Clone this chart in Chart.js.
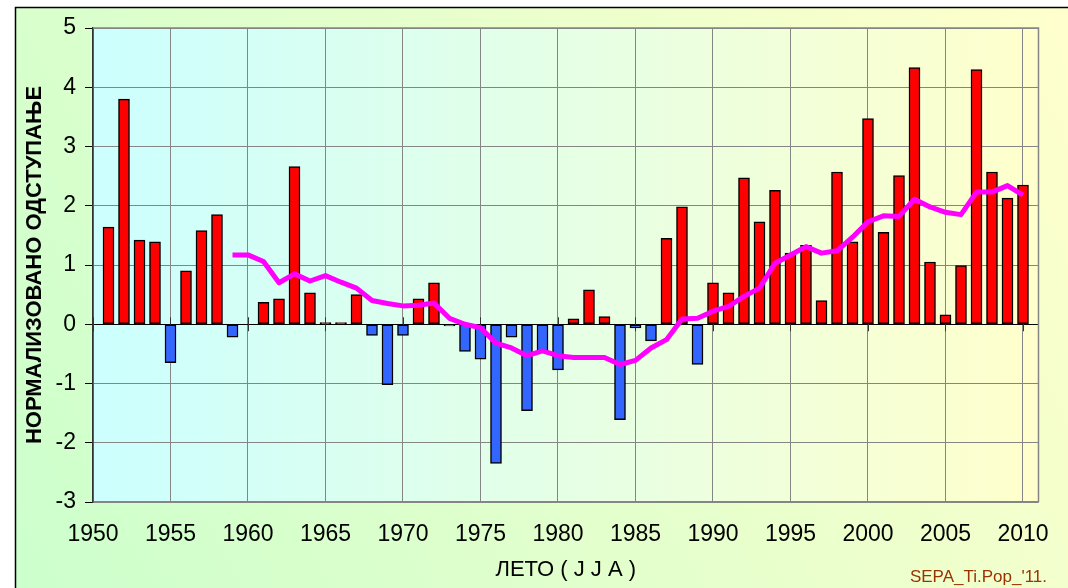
<!DOCTYPE html>
<html>
<head>
<meta charset="utf-8">
<script src="https://cdn.jsdelivr.net/npm/chart.js@4.4.1/dist/chart.umd.min.js"></script>
<style>
  html, body { margin: 0; padding: 0; background: #fff; }
  canvas { display: block; }
</style>
</head>
<body>
<canvas id="chart-bars" width="1068" height="588"></canvas>

<script>
// summer (JJA) normalized anomaly, per year
var years = [1951, 1952, 1953, 1954, 1955, 1956, 1957, 1958, 1959, 1960,
  1961, 1962, 1963, 1964, 1965, 1966, 1967, 1968, 1969, 1970,
  1971, 1972, 1973, 1974, 1975, 1976, 1977, 1978, 1979, 1980,
  1981, 1982, 1983, 1984, 1985, 1986, 1987, 1988, 1989, 1990,
  1991, 1992, 1993, 1994, 1995, 1996, 1997, 1998, 1999, 2000,
  2001, 2002, 2003, 2004, 2005, 2006, 2007, 2008, 2009, 2010];
var anomaly = [1.64, 3.80, 1.42, 1.39, -0.65, 0.90, 1.58, 1.85, -0.22, 0,
  0.37, 0.43, 2.66, 0.53, 0.03, 0.03, 0.50, -0.19, -1.02, -0.19,
  0.43, 0.70, -0.03, -0.46, -0.59, -2.35, -0.22, -1.46, -0.45, -0.77,
  0.09, 0.58, 0.13, -1.61, -0.06, -0.28, 1.45, 1.98, -0.68, 0.70,
  0.53, 2.47, 1.73, 2.26, 1.20, 1.33, 0.40, 2.57, 1.39, 3.47,
  1.55, 2.51, 4.33, 1.05, 0.16, 0.99, 4.30, 2.57, 2.13, 2.35];

// 10-year running mean (magenta line)
var avgYears = [1959, 1960, 1961, 1962, 1963, 1964, 1965, 1966, 1967, 1968,
  1969, 1970, 1971, 1972, 1973, 1974, 1975, 1976, 1977, 1978,
  1979, 1980, 1981, 1982, 1983, 1984, 1985, 1986, 1987, 1988,
  1989, 1990, 1991, 1992, 1993, 1994, 1995, 1996, 1997, 1998,
  1999, 2000, 2001, 2002, 2003, 2004, 2005, 2006, 2007, 2008,
  2009, 2010];
var avgValues = [1.17, 1.17, 1.06, 0.70, 0.85, 0.73, 0.82, 0.71, 0.61, 0.40,
  0.35, 0.31, 0.32, 0.36, 0.10, 0.00, -0.06, -0.32, -0.40, -0.53,
  -0.45, -0.53, -0.56, -0.56, -0.56, -0.68, -0.61, -0.40, -0.26, 0.09,
  0.10, 0.22, 0.30, 0.47, 0.61, 1.03, 1.17, 1.31, 1.20, 1.24,
  1.47, 1.73, 1.83, 1.82, 2.11, 1.98, 1.89, 1.85, 2.23, 2.23,
  2.34, 2.18];

var xTicks = [1950, 1955, 1960, 1965, 1970, 1975, 1980, 1985, 1990, 1995, 2000, 2005, 2010];
var yTicks = [-3, -2, -1, 0, 1, 2, 3, 4, 5];

var fontFamily = "'Liberation Sans', Arial, sans-serif";

var backdrop = {
  id: "backdrop",
  beforeDraw: function (chart) {
    var ctx = chart.ctx;
    var a = chart.chartArea;
    var w = chart.width, h = chart.height;
    ctx.save();
    ctx.fillStyle = "#fff";
    ctx.fillRect(0, 0, w, h);
    // outer frame
    var g = ctx.createLinearGradient(15, h, w, 7);
    g.addColorStop(0, "#ccffcc");
    g.addColorStop(1, "#ffffcc");
    ctx.fillStyle = g;
    ctx.fillRect(15, 7, w - 15, h - 7);
    ctx.strokeStyle = "#000";
    ctx.lineWidth = 1.5;
    ctx.beginPath();
    ctx.moveTo(15.5, h);
    ctx.lineTo(15.5, 7.5);
    ctx.lineTo(w, 7.5);
    ctx.stroke();
    // plot area
    var g2 = ctx.createLinearGradient(a.left, 0, a.right, 0);
    g2.addColorStop(0, "#ccffff");
    g2.addColorStop(1, "#ffffcc");
    ctx.fillStyle = g2;
    ctx.fillRect(a.left, a.top, a.right - a.left, a.bottom - a.top);
    ctx.restore();
  },
  beforeDatasetsDraw: function (chart) {
    var ctx = chart.ctx;
    var a = chart.chartArea;
    var xs = chart.scales.x, ys = chart.scales.y;
    var y0 = ys.getPixelForValue(0);
    ctx.save();
    ctx.strokeStyle = "#858585";
    ctx.lineWidth = 1.5;
    ctx.beginPath();
    ctx.moveTo(a.left, a.top);
    ctx.lineTo(a.right, a.top);
    ctx.lineTo(a.right, a.bottom);
    ctx.stroke();
    // tick marks crossing the zero line
    ctx.strokeStyle = "#333";
    ctx.lineWidth = 1;
    xTicks.forEach(function (t) {
      var px = Math.round(xs.getPixelForValue(t)) + 0.5;
      ctx.beginPath();
      ctx.moveTo(px, y0 - 7);
      ctx.lineTo(px, y0 + 7);
      ctx.stroke();
    });
    ctx.restore();
  },
  afterDraw: function (chart) {
    var ctx = chart.ctx;
    ctx.save();
    ctx.fillStyle = "#993300";
    ctx.font = "17px " + fontFamily;
    ctx.textAlign = "right";
    ctx.textBaseline = "alphabetic";
    ctx.fillText("SEPA_Ti.Pop_'11.", 1047, 582);
    ctx.restore();
  }
};

var ctx = document.getElementById("chart-bars").getContext("2d");
new Chart(ctx, {
  type: "bar",
  data: {
    datasets: [
      {
        type: "line",
        label: "10 year mean",
        data: avgYears.map(function (y, i) { return { x: y, y: avgValues[i] }; }),
        borderColor: "#ff00ff",
        borderWidth: 5,
        borderJoinStyle: "round",
        pointRadius: 0,
        tension: 0,
        fill: false,
        order: 0,
      },
      {
        type: "bar",
        label: "JJA",
        data: years.map(function (y, i) { return { x: y, y: anomaly[i] }; }),
        backgroundColor: function (c) {
          return c.raw && c.raw.y < 0 ? "#3366ff" : "#ff0000";
        },
        borderColor: "#000",
        borderWidth: 1.5,
        borderSkipped: false,
        barThickness: 11,
        order: 1,
      },
    ],
  },
  options: {
    responsive: false,
    animation: false,
    layout: { padding: { top: 28, right: 26, left: 0, bottom: 0 } },
    plugins: {
      legend: { display: false },
      tooltip: { enabled: false },
    },
    scales: {
      x: {
        type: "linear",
        min: 1950,
        max: 2011,
        offset: false,
        afterBuildTicks: function (scale) {
          scale.ticks = xTicks.map(function (v) { return { value: v }; });
        },
        afterFit: function (scale) {
          scale.height = 86;
        },
        grid: { offset: false, color: "#858585", lineWidth: 1, drawTicks: false },
        border: { color: "#858585", width: 1.5 },
        ticks: {
          padding: 19,
          color: "#000",
          maxRotation: 0,
          autoSkip: false,
          font: { family: fontFamily, size: 23 },
          callback: function (v) { return String(v); },
        },
        title: {
          display: true,
          text: "ЛЕТО ( J J A )",
          color: "#000",
          font: { family: fontFamily, size: 22 },
          padding: { top: 0, bottom: 5 },
        },
      },
      y: {
        min: -3,
        max: 5,
        afterBuildTicks: function (scale) {
          scale.ticks = yTicks.map(function (v) { return { value: v }; });
        },
        afterFit: function (scale) {
          scale.width = 93;
        },
        grid: {
          color: function (c) { return c.tick && c.tick.value === 0 ? "#000" : "#858585"; },
          lineWidth: 1,
          tickColor: "#000",
          tickLength: 8,
        },
        border: { color: "#333", width: 1.5 },
        ticks: {
          padding: 9,
          color: "#000",
          font: { family: fontFamily, size: 23 },
        },
        title: {
          display: true,
          text: "НОРМАЛИЗОВАНО ОДСТУПАЊЕ",
          color: "#000",
          font: { family: fontFamily, size: 22, weight: "bold" },
          padding: { top: 22, bottom: 0 },
        },
      },
    },
  },
  plugins: [backdrop],
});
</script>
</body>
</html>
